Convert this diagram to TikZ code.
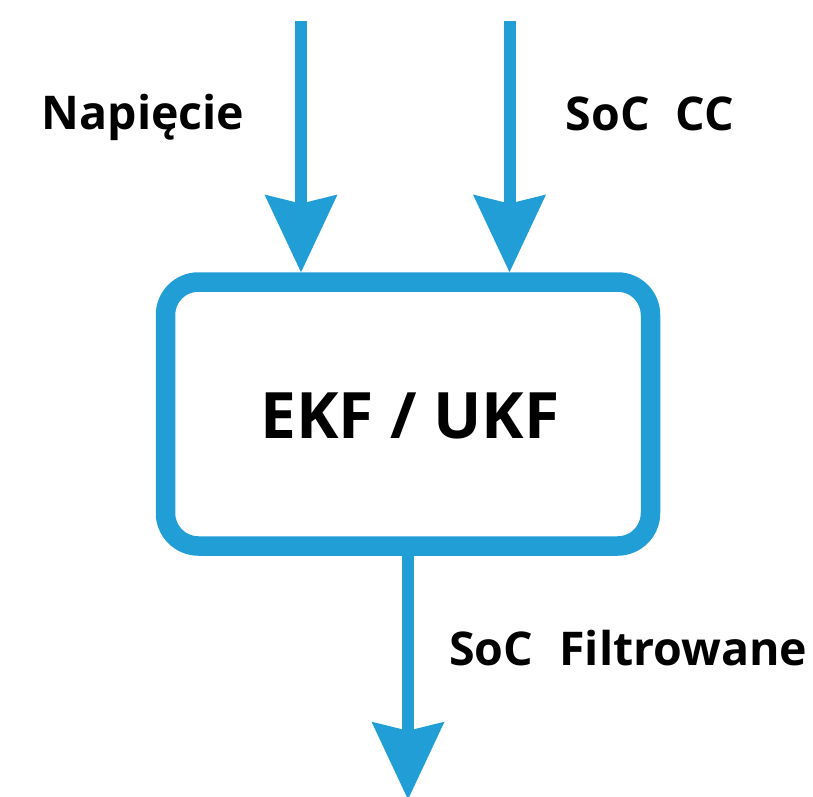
\documentclass[tikz,border=0pt]{standalone}
\usepackage{fontspec}
\setmainfont{Open Sans}
\usetikzlibrary{arrows.meta}
\definecolor{flowblue}{RGB}{34,158,214}
\newcommand{\widegap}{\hspace{26pt}}
\tikzset{
  blockbox/.style={draw=flowblue, line width=19.5pt, rounded corners=33pt,
    minimum width=485pt, minimum height=264pt, inner sep=0pt},
  flowarrow/.style={draw=flowblue, line width=12pt,
    -{Stealth[length=77.7pt, width=73pt, inset=9pt, line width=0pt]}},
  lbl/.style={anchor=base, inner sep=0pt, font=\bfseries\fontsize{46.5}{52}\selectfont}
}
\begin{document}
\begin{tikzpicture}[x=1pt, y=-1pt]
  \useasboundingbox (0,0) rectangle (813,796);
  \node[blockbox] (box) at (408,414) {};
  \node[anchor=base, inner sep=0pt, font=\bfseries\fontsize{64}{70}\selectfont] (title) at (410,438.3) {EKF / UKF};
  \coordinate (inA) at (301,21);
  \coordinate (inB) at (509.5,21);
  \coordinate (outC) at (408,799.4);
  \draw[flowarrow] (inA) -- (inA |- box.north);
  \draw[flowarrow] (inB) -- (inB |- box.north);
  \draw[flowarrow] (box.south) -- (outC);
  \node[lbl] (napiecie) at (143,129.3) {Napięcie};
  \node[lbl] (soccc) at (650,130.5) {SoC\widegap CC};
  \node[lbl] (socfilt) at (628.4,665) {SoC\widegap Filtrowane};
\end{tikzpicture}
\end{document}
